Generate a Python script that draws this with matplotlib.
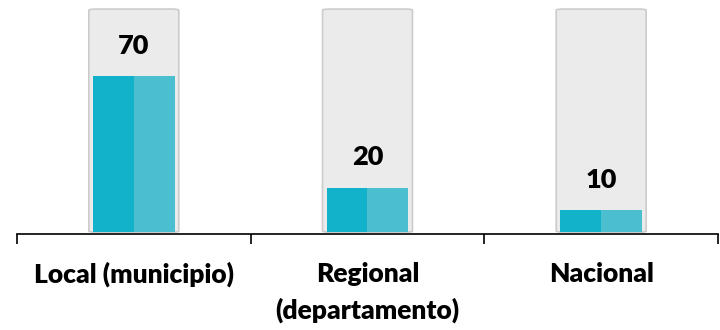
import matplotlib.pyplot as plt
from matplotlib.patches import FancyBboxPatch

categories = ['Local (municipio)', 'Regional\n(departamento)', 'Nacional']
values = [70, 20, 10]
full_scale = [100, 100, 100]

plt.rcParams['font.family'] = ['Lato', 'DejaVu Sans']

fig = plt.figure(figsize=(7.2, 3.3), dpi=100)
ax = fig.add_axes([0.0236, 0.291, 0.9736, 0.685])

x = list(range(len(categories)))

# grey "tube" behind each bar
bg = ax.bar(x, full_scale, width=0.385, color='#ebebeb')
for r in bg:
    r.set_visible(False)
    p = FancyBboxPatch((r.get_x(), r.get_y()), r.get_width(), r.get_height(),
                       boxstyle='round,pad=0,rounding_size=0.035', mutation_aspect=15,
                       facecolor='#ebebeb', edgecolor='#cccccc', linewidth=1.2, zorder=1)
    ax.add_patch(p)

# two-tone fill
half = 0.175
ax.bar([i - half / 2 for i in x], values, width=half, color='#12b3ca', zorder=2)
ax.bar([i + half / 2 for i in x], values, width=half, color='#4bbfd0', zorder=2)

for i, v in zip(x, values):
    ax.text(i, v + 13.5, str(v), ha='center', va='center', fontsize=19.5, fontweight='heavy', color='black')

ax.set_xlim(-0.5, 2.5)
ax.set_ylim(-0.8, 100.5)
ax.set_yticks([])
ax.set_xticks(x)
ax.set_xticklabels(categories, fontsize=19, fontweight='heavy', linespacing=1.55)
ax.set_xticks([-0.5, 0.5, 1.5, 2.5], minor=True)
ax.tick_params(axis='x', which='major', length=0, pad=20)
ax.tick_params(axis='x', which='minor', length=7, width=1.2, color='black')
for s in ['top', 'right', 'left']:
    ax.spines[s].set_visible(False)
ax.spines['bottom'].set_linewidth(1.2)

fig.savefig('out.png', dpi=100)
